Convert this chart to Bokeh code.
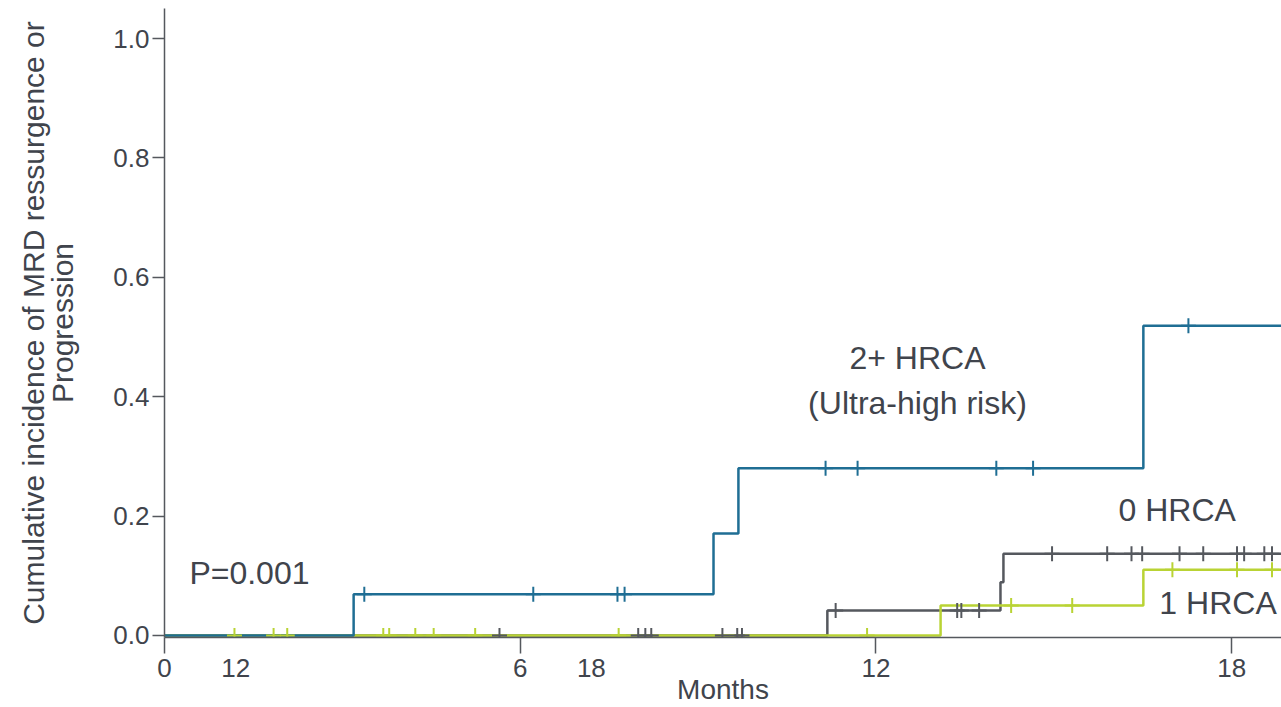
from bokeh.plotting import figure
from bokeh.models import FixedTicker, Label, Range1d
from bokeh.embed import file_html
from bokeh.resources import INLINE

# ---------------- data ----------------
month_ticks = [0, 1.2, 6, 7.2, 12, 18]
month_tick_labels = ["0", "12", "6", "18", "12", "18"]
month_tick_marks = [0, 6, 12, 18]

y_ticks = [0.0, 0.2, 0.4, 0.6, 0.8, 1.0]
y_tick_labels = ["0.0", "0.2", "0.4", "0.6", "0.8", "1.0"]

# 2+ HRCA (Ultra-high risk)
blue_t = [0, 3.19, 9.26, 9.68, 16.51, 19.0]
blue_y = [0, 0.069, 0.171, 0.280, 0.519, 0.519]
blue_censor = [3.37, 6.22, 7.64, 7.76, 11.15, 11.69, 14.03, 14.65, 17.27]

# 0 HRCA
gray_t = [0, 11.18, 14.10, 14.15, 19.0]
gray_y = [0, 0.042, 0.089, 0.137, 0.137]
gray_censor = [5.65, 7.99, 8.11, 8.21, 9.41, 9.66, 9.74, 11.32, 13.37, 13.44,
               13.74, 14.97, 15.90, 16.31, 16.49, 17.12, 17.52, 18.09, 18.21,
               18.55, 18.68]

# 1 HRCA
green_t = [0, 13.09, 16.51, 19.0]
green_y = [0, 0.050, 0.110, 0.110]
green_censor = [1.18, 1.84, 2.07, 3.69, 3.79, 4.23, 4.54, 5.24, 7.66, 11.85,
                14.28, 15.31, 17.00, 18.09, 18.68]

BLUE = "#1f6e94"
GRAY = "#55585e"
GREEN = "#b9d334"
TEXT = "#40444c"
FONT = "Liberation Sans"


def level_at(ts, ys, t):
    lv = ys[0]
    for ti, yi in zip(ts, ys):
        if ti <= t:
            lv = yi
    return lv


p = figure(width=1281, height=707,
           x_range=Range1d(0, 18.84), y_range=Range1d(-0.0034, 1.0503),
           output_backend="svg", toolbar_location=None,
           min_border_left=164, min_border_right=0,
           min_border_top=8, min_border_bottom=70)
p.outline_line_color = None
p.grid.visible = False
p.background_fill_color = "white"

# x axis
xa = p.xaxis[0]
xa.ticker = FixedTicker(ticks=month_ticks, minor_ticks=month_tick_marks)
xa.major_label_overrides = {t: l for t, l in zip(month_ticks, month_tick_labels)}
xa.major_tick_out = 0
xa.major_tick_in = 0
xa.minor_tick_out = 16
xa.minor_tick_in = 0
xa.minor_tick_line_color = GRAY
xa.minor_tick_line_width = 1.5
xa.axis_line_color = GRAY
xa.axis_line_width = 1.5
xa.major_label_standoff = 5
xa.major_label_text_font = FONT
xa.major_label_text_font_size = "26px"
xa.major_label_text_color = TEXT
xa.axis_label = "Months"
xa.axis_label_text_font = FONT
xa.axis_label_text_font_size = "28px"
xa.axis_label_text_font_style = "normal"
xa.axis_label_text_color = TEXT
xa.axis_label_standoff = -6

# y axis
ya = p.yaxis[0]
ya.ticker = FixedTicker(ticks=y_ticks, minor_ticks=[])
ya.major_label_overrides = {t: l for t, l in zip(y_ticks, y_tick_labels)}
ya.major_tick_out = 12
ya.major_tick_in = 0
ya.major_tick_line_color = GRAY
ya.major_tick_line_width = 1.5
ya.axis_line_color = GRAY
ya.axis_line_width = 1.5
ya.major_label_standoff = 3
ya.major_label_text_font = FONT
ya.major_label_text_font_size = "26px"
ya.major_label_text_color = TEXT
ya.axis_label = "Cumulative incidence of MRD ressurgence or\nProgression"
ya.axis_label_text_font = FONT
ya.axis_label_text_font_size = "30px"
ya.axis_label_text_line_height = 0.9
ya.axis_label_text_font_style = "normal"
ya.axis_label_text_color = TEXT
ya.axis_label_standoff = 31

# curves
p.step(gray_t, gray_y, mode="after", line_color=GRAY, line_width=2.5)
p.step(green_t, green_y, mode="after", line_color=GREEN, line_width=2.5)
p.step(blue_t, blue_y, mode="after", line_color=BLUE, line_width=2.5)

# censor marks
for ts, ys, cens, col in [(gray_t, gray_y, gray_censor, GRAY),
                          (green_t, green_y, green_censor, GREEN),
                          (blue_t, blue_y, blue_censor, BLUE)]:
    cy = [level_at(ts, ys, c) for c in cens]
    p.scatter(cens, cy, marker="cross", size=15, line_color=col, line_width=2)


# annotations
def add_label(x, y, text, size, align):
    p.add_layout(Label(x=x, y=y, text=text, text_font=FONT,
                       text_font_size=size, text_color=TEXT,
                       text_align=align, text_baseline="middle"))


add_label(0.42, 0.104, "P=0.001", "32px", "left")
add_label(12.70, 0.464, "2+ HRCA", "32px", "center")
add_label(12.70, 0.390, "(Ultra-high risk)", "32px", "center")
add_label(17.08, 0.211, "0 HRCA", "32px", "center")
add_label(16.78, 0.054, "1 HRCA", "32px", "left")

open("out.html", "w").write(file_html(p, INLINE))
